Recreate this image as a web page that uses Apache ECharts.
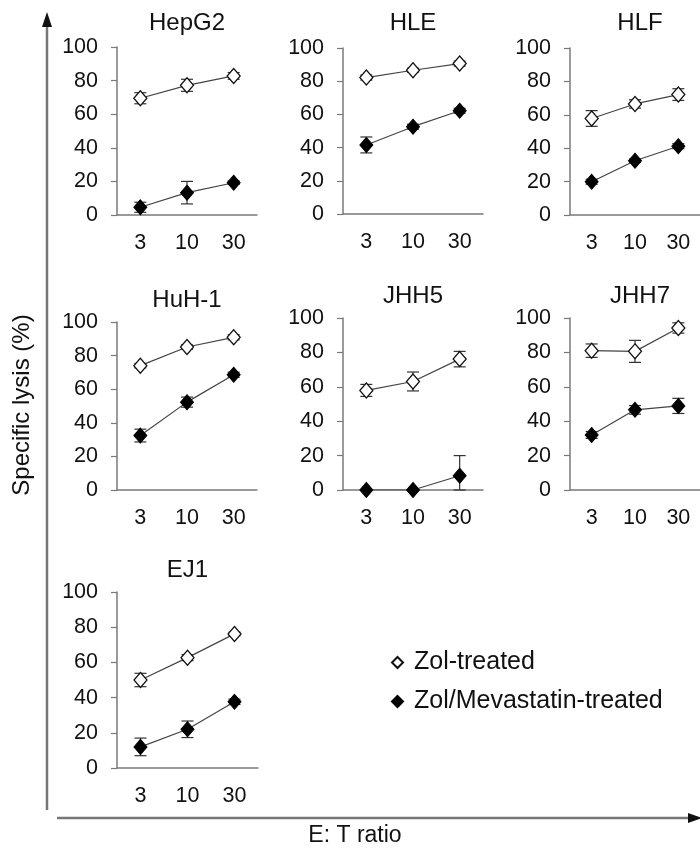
<!DOCTYPE html>
<html>
<head>
<meta charset="utf-8">
<script src="https://cdn.jsdelivr.net/npm/echarts@6/dist/echarts.min.js"></script>
<style>html,body{margin:0;padding:0;background:#fff;}#c{width:700px;height:850px;}</style>
</head>
<body>
<div id="c"></div>
<script>
const categories = ['3', '10', '30'];
const cellLines = ['HepG2', 'HLE', 'HLF', 'HuH-1', 'JHH5', 'JHH7', 'EJ1'];
const yTicks = [0, 20, 40, 60, 80, 100];
const zolMean = [[69.5, 77.2, 82.8], [82.2, 86.6, 90.6], [57.8, 66.5, 72.1], [74, 85.1, 90.9], [57.9, 63.1, 76.1], [81, 80.6, 94.2], [50, 62.7, 76.2]];
const zolErr  = [[3.3, 3.6, 2], [1.5, 1.2, 1.5], [4.7, 2.5, 3.5], [1.3, 1.3, 1.5], [3.5, 5.5, 4.5], [3.9, 6.4, 3], [3.8, 1.7, 1]];
const mevMean = [[4.6, 13.3, 19.2], [41.6, 52.6, 62.2], [19.9, 32.5, 41.2], [32.4, 52.3, 68.6], [0, 0, 8.3], [32, 46.6, 48.9], [12, 22, 37.6]];
const mevErr  = [[3, 6.7, 1], [4.8, 1.5, 1.5], [1.5, 1, 1.5], [3.8, 3, 1.5], [0, 0, 11.7], [2, 2.5, 4.4], [5, 4.7, 1.5]];
const seriesNames = ['Zol-treated', 'Zol/Mevastatin-treated'];

const FONT = 'Liberation Sans, Arial, sans-serif';
const AXIS_COLOR = '#7a7a7a';
// panel layout (pixels)
const panels = [
  {left: 117, top: 47, width: 140, height: 168, ty: 11},
  {left: 343, top: 48, width: 140, height: 166, ty: 11},
  {left: 570, top: 48, width: 140, height: 167, ty: 11},
  {left: 117, top: 322, width: 140, height: 168, ty: 288},
  {left: 343, top: 318, width: 140, height: 172, ty: 284},
  {left: 570, top: 318, width: 140, height: 172, ty: 284},
  {left: 117, top: 592, width: 141, height: 176, ty: 558}
];

const grid = [], xAxis = [], yAxis = [], series = [], title = [];

function errSeries(i, means, errs, name) {
  return {
    type: 'custom', xAxisIndex: i, yAxisIndex: i, z: 1, silent: true,
    name: name + ' error',
    data: means.map((m, k) => [k, Math.max(0, m - errs[k]), Math.min(100, m + errs[k])]),
    renderItem: function (params, api) {
      if (api.value(2) - api.value(1) <= 0) return null;
      const hi = api.coord([api.value(0), api.value(2)]);
      const lo = api.coord([api.value(0), api.value(1)]);
      const w = 6;
      const st = {stroke: '#333', lineWidth: 1.2};
      return {type: 'group', children: [
        {type: 'line', shape: {x1: hi[0], y1: hi[1], x2: lo[0], y2: lo[1]}, style: st},
        {type: 'line', shape: {x1: hi[0] - w, y1: hi[1], x2: hi[0] + w, y2: hi[1]}, style: st},
        {type: 'line', shape: {x1: lo[0] - w, y1: lo[1], x2: lo[0] + w, y2: lo[1]}, style: st}
      ]};
    },
    encode: {x: 0, y: [1, 2]}
  };
}

panels.forEach((p, i) => {
  grid.push({left: p.left, top: p.top, width: p.width, height: p.height, containLabel: false});
  title.push({
    text: cellLines[i], left: p.left + p.width / 2, top: p.ty, textAlign: 'center', padding: 0,
    textStyle: {fontFamily: FONT, fontSize: 24, fontWeight: 'normal', color: '#111'}
  });
  xAxis.push({
    type: 'category', gridIndex: i, data: categories, boundaryGap: true,
    axisLine: {lineStyle: {color: AXIS_COLOR, width: 1.5}},
    axisTick: {alignWithLabel: true, length: 6, lineStyle: {color: AXIS_COLOR, width: 1.2}},
    axisLabel: {fontFamily: FONT, fontSize: 21.5, color: '#111', margin: 17},
    splitLine: {show: false}
  });
  yAxis.push({
    type: 'value', gridIndex: i, min: 0, max: 100, interval: 20,
    axisLine: {show: true, lineStyle: {color: AXIS_COLOR, width: 1.5}},
    axisTick: {show: true, length: 6, lineStyle: {color: AXIS_COLOR, width: 1.2}},
    axisLabel: {fontFamily: FONT, fontSize: 21.5, color: '#111', margin: 19,
      formatter: v => yTicks.indexOf(v) >= 0 ? String(v) : ''},
    splitLine: {show: false}
  });
  series.push(errSeries(i, zolMean[i], zolErr[i], seriesNames[0]));
  series.push(errSeries(i, mevMean[i], mevErr[i], seriesNames[1]));
  series.push({
    type: 'line', name: seriesNames[0], xAxisIndex: i, yAxisIndex: i, z: 3,
    data: zolMean[i], symbol: 'diamond', symbolSize: [13, 15], showSymbol: true,
    lineStyle: {color: '#444', width: 1.2},
    itemStyle: {color: '#fff', borderColor: '#111', borderWidth: 1.3},
    emphasis: {disabled: true}
  });
  series.push({
    type: 'line', name: seriesNames[1], xAxisIndex: i, yAxisIndex: i, z: 3,
    data: mevMean[i], symbol: 'diamond', symbolSize: [13, 15], showSymbol: true,
    lineStyle: {color: '#444', width: 1.2},
    itemStyle: {color: '#000', borderColor: '#000', borderWidth: 1},
    emphasis: {disabled: true}
  });
});

const option = {
  animation: false,
  backgroundColor: '#fff',
  title: title,
  grid: grid, xAxis: xAxis, yAxis: yAxis, series: series,
  legend: {
    data: seriesNames.map(n => ({name: n, icon: 'diamond'})),
    orient: 'vertical', left: 391, top: 650, padding: 0, itemWidth: 11, itemHeight: 11, itemGap: 14,
    textStyle: {fontFamily: FONT, fontSize: 25, color: '#111', padding: [0, 0, 0, 6]},
    selectedMode: false
  },
  graphic: [
    {type: 'line', shape: {x1: 47, y1: 24, x2: 47, y2: 810}, style: {stroke: '#777', lineWidth: 2.5}},
    {type: 'polygon', shape: {points: [[47, 12], [42, 27], [52, 27]]}, style: {fill: '#111'}},
    {type: 'line', shape: {x1: 57, y1: 818, x2: 690, y2: 818}, style: {stroke: '#777', lineWidth: 2.5}},
    {type: 'polygon', shape: {points: [[702, 818], [688, 813], [688, 823]]}, style: {fill: '#111'}},
    {type: 'text', x: 22, y: 405, rotation: Math.PI / 2, style: {
      text: 'Specific lysis (%)', fontFamily: FONT, fontSize: 24, fill: '#111',
      align: 'center', verticalAlign: 'middle'}},
    {type: 'text', x: 355, y: 836, style: {
      text: 'E: T ratio', fontFamily: FONT, fontSize: 23, fill: '#111',
      align: 'center', verticalAlign: 'middle'}}
  ]
};
echarts.init(document.getElementById('c')).setOption(option);
</script>
</body>
</html>
